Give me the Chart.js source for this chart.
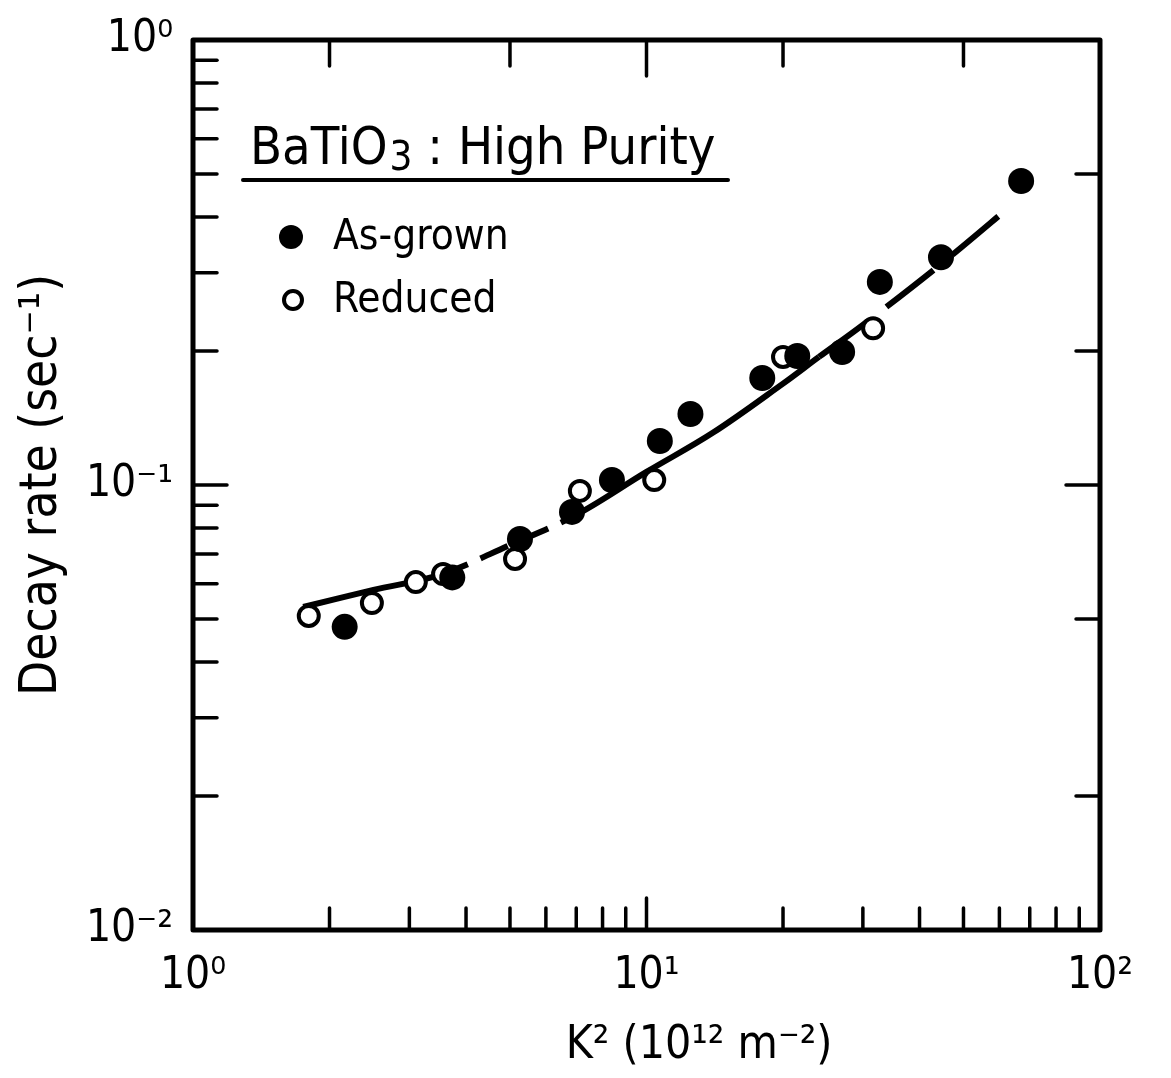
<!DOCTYPE html>
<html>
<head>
<meta charset="utf-8">
<script src="https://cdn.jsdelivr.net/npm/chart.js@4.4.1/dist/chart.umd.min.js"></script>
<style>
  html, body { margin: 0; padding: 0; background: #fff; }
  #wrap { width: 1171px; height: 1078px; }
</style>
</head>
<body>
<div id="wrap"><canvas id="chart" width="1171" height="1078"></canvas></div>
<script>
// values (K^2 in 10^12 m^-2, rate in 1/s)
const grownK2   = [2.16, 3.73, 5.26, 6.85, 8.39, 10.7, 12.5, 18.0, 21.5, 27.0, 32.7, 44.6, 67.0];
const grownRate = [0.048, 0.062, 0.0756, 0.087, 0.1026, 0.1256, 0.1444, 0.174, 0.195, 0.199, 0.286, 0.325, 0.482];

const reducedK2   = [1.80, 2.48, 3.10, 3.56, 5.13, 7.13, 10.4, 20.0, 31.6];
const reducedRate = [0.0508, 0.0543, 0.0605, 0.0631, 0.0682, 0.097, 0.1026, 0.194, 0.225];

const fitK2   = [1.75, 2.5, 3.5, 5, 7, 10, 14, 20, 24, 30, 45, 65];
const fitRate = [0.0532, 0.0581, 0.0628, 0.0733, 0.0857, 0.107, 0.131, 0.169, 0.194, 0.229, 0.316, 0.432];

const xTicks = [1, 10, 100];
const xTickLabels = ['10⁰', '10¹', '10²'];
const yTicks = [0.01, 0.1, 1];
const yTickLabels = ['10⁻²', '10⁻¹', '10⁰'];

const bottomMinor = [2, 3, 4, 5, 6, 7, 8, 9, 20, 30, 40, 50, 60, 70, 80, 90];
const topMinor = [2, 5, 20, 50];
const leftMinor = [0.02, 0.03, 0.04, 0.05, 0.06, 0.07, 0.08, 0.09, 0.2, 0.3, 0.4, 0.5, 0.6, 0.7, 0.8, 0.9];
const rightMinor = [0.02, 0.05, 0.2, 0.5];

const FONT = "'Liberation Sans Narrow', 'DejaVu Sans Condensed', 'DejaVu Sans', sans-serif";

function toXY(xs, ys) {
  return xs.map((x, i) => ({ x: x, y: ys[i] }));
}

// frame, inward ticks, title box and legend
const framePlugin = {
  id: 'framePlugin',
  afterDraw(chart) {
    const ctx = chart.ctx;
    const xs = chart.scales.x, ys = chart.scales.y;
    const a = chart.chartArea;
    ctx.save();
    ctx.strokeStyle = '#000';
    ctx.lineCap = 'round';
    ctx.lineJoin = 'round';

    ctx.lineWidth = 5;
    ctx.strokeRect(a.left, a.top, a.right - a.left, a.bottom - a.top);

    ctx.lineWidth = 3.5;
    function tick(x1, y1, x2, y2) {
      ctx.beginPath(); ctx.moveTo(x1, y1); ctx.lineTo(x2, y2); ctx.stroke();
    }
    bottomMinor.forEach(v => { const p = xs.getPixelForValue(v); tick(p, a.bottom, p, a.bottom - 22); });
    tick(xs.getPixelForValue(10), a.bottom, xs.getPixelForValue(10), a.bottom - 32);
    topMinor.forEach(v => { const p = xs.getPixelForValue(v); tick(p, a.top, p, a.top + 26); });
    tick(xs.getPixelForValue(10), a.top, xs.getPixelForValue(10), a.top + 36);
    leftMinor.forEach(v => { const p = ys.getPixelForValue(v); tick(a.left, p, a.left + 24, p); });
    tick(a.left, ys.getPixelForValue(0.1), a.left + 34, ys.getPixelForValue(0.1));
    rightMinor.forEach(v => { const p = ys.getPixelForValue(v); tick(a.right, p, a.right - 24, p); });
    tick(a.right, ys.getPixelForValue(0.1), a.right - 34, ys.getPixelForValue(0.1));

    // heading
    ctx.fillStyle = '#000';
    ctx.textBaseline = 'alphabetic';
    ctx.textAlign = 'left';
    let x = 250;
    const base = 164;
    ctx.font = '52px ' + FONT;
    ctx.fillText('BaTiO', x, base); x += ctx.measureText('BaTiO').width + 2;
    ctx.font = '40px ' + FONT;
    ctx.fillText('3', x, base + 6); x += ctx.measureText('3').width;
    ctx.font = '52px ' + FONT;
    ctx.fillText(' : High Purity', x, base);
    ctx.lineWidth = 4;
    tick(243, 180, 728, 180);

    // legend
    ctx.beginPath(); ctx.arc(291, 237, 12, 0, Math.PI * 2); ctx.fill();
    ctx.beginPath(); ctx.arc(293, 300, 9, 0, Math.PI * 2);
    ctx.fillStyle = '#fff'; ctx.fill();
    ctx.lineWidth = 4; ctx.stroke();
    ctx.fillStyle = '#000';
    ctx.font = '42px ' + FONT;
    ctx.textBaseline = 'middle';
    ctx.fillText('As-grown', 333, 238);
    ctx.fillText('Reduced', 333, 301);
    ctx.restore();
  }
};

new Chart(document.getElementById('chart'), {
  type: 'scatter',
  data: {
    datasets: [
      {
        label: 'As-grown',
        data: toXY(grownK2, grownRate),
        pointRadius: 13,
        pointBackgroundColor: '#000',
        pointBorderWidth: 0,
        order: 0
      },
      {
        label: 'Reduced',
        data: toXY(reducedK2, reducedRate),
        pointRadius: 10,
        pointBackgroundColor: '#fff',
        pointBorderColor: '#000',
        pointBorderWidth: 4,
        order: 1
      },
      {
        label: 'fit',
        type: 'line',
        data: toXY(fitK2, fitRate),
        showLine: true,
        borderColor: '#000',
        borderWidth: 6,
        pointRadius: 0,
        tension: 0.35,
        order: 2,
        segment: {
          borderDash: c => {
            const x0 = c.p0.parsed.x;
            if (x0 >= 3.5 && x0 < 7) return [30, 14];
            if (x0 >= 24) return [60, 24];
            return [];
          }
        }
      }
    ]
  },
  options: {
    responsive: false,
    animation: false,
    layout: { padding: { top: 40, right: 71, left: 0, bottom: 0 } },
    plugins: {
      legend: { display: false },
      tooltip: { enabled: false }
    },
    scales: {
      x: {
        type: 'logarithmic',
        min: 1,
        max: 100,
        afterBuildTicks: s => { s.ticks = xTicks.map(v => ({ value: v })); },
        afterFit: s => { s.height = 148; },
        grid: { display: false },
        border: { display: false },
        ticks: {
          color: '#000',
          padding: 12,
          maxRotation: 0,
          font: { family: FONT, size: 44 },
          callback: (v, i) => xTickLabels[i]
        },
        title: {
          display: true,
          text: '        K² (10¹² m⁻²)',
          color: '#000',
          font: { family: FONT, size: 46 },
          padding: { top: 0 }
        }
      },
      y: {
        type: 'logarithmic',
        min: 0.01,
        max: 1,
        afterBuildTicks: s => { s.ticks = yTicks.map(v => ({ value: v })); },
        afterFit: s => { s.width = 193; },
        grid: { display: false },
        border: { display: false },
        ticks: {
          color: '#000',
          padding: 12,
          font: { family: FONT, size: 44 },
          callback: (v, i) => yTickLabels[i]
        },
        title: {
          display: true,
          text: 'Decay rate (sec⁻¹)',
          color: '#000',
          font: { family: FONT, size: 51 },
          padding: { top: 12, bottom: 0 }
        }
      }
    }
  },
  plugins: [framePlugin]
});
</script>
</body>
</html>
